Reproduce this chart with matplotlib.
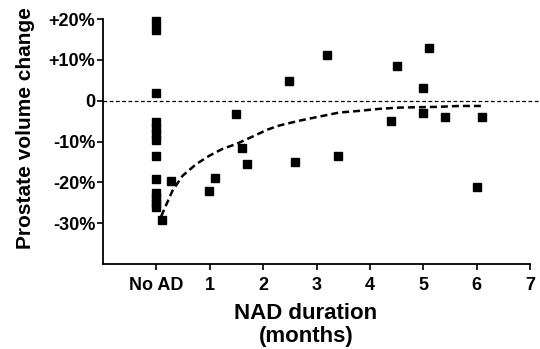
import matplotlib
matplotlib.use("Agg")
import matplotlib.pyplot as plt

# values (x in months, y in % change)
noad_y = [19.6, 17.4, 2.0, -5.2, -6.6, -8.1, -9.6, -13.5,
          -19.2, -22.6, -23.8, -25.1, -26.0]
nad_x = [0.1, 0.28, 0.99, 1.09, 1.5, 1.6, 1.69, 2.49, 2.6, 3.2, 3.4,
         4.4, 4.5, 5.0, 5.0, 5.1, 5.4, 6.0, 6.1]
nad_y = [-29.2, -19.7, -22.2, -18.9, -3.2, -11.5, -15.5, 4.9, -14.9, 11.3, -13.5,
         -4.9, 8.4, 3.0, -3.0, 12.8, -4.1, -21.1, -4.1]
fit_x = [0.09, 0.30, 0.49, 0.75, 0.99, 1.24, 1.50, 1.80, 2.08, 2.30, 2.68,
         3.05, 3.43, 3.80, 4.18, 4.55, 4.93, 5.30, 5.67, 6.10]
fit_y = [-28.3, -22.1, -18.4, -15.5, -13.5, -11.8, -10.6, -8.8, -7.1, -6.1, -4.9,
         -3.9, -2.9, -2.5, -2.0, -1.7, -1.6, -1.5, -1.3, -1.3]
xticks = [0, 1, 2, 3, 4, 5, 6, 7]
xtick_labels = ['No AD', '1', '2', '3', '4', '5', '6', '7']
yticks = [-30, -20, -10, 0, 10, 20]
ytick_labels = ['-30%', '-20%', '-10%', '0', '+10%', '+20%']

plt.rcParams['font.family'] = ['Liberation Sans', 'DejaVu Sans']
plt.rcParams['font.weight'] = 'bold'

fig = plt.figure(figsize=(5.4, 3.49), dpi=100)
ax = fig.add_axes([103/540, 1 - 264/349, (530-103)/540, (264-19)/349])

ax.axhline(0, xmin=0, xmax=1.02, color='black', lw=0.9, dashes=(3, 2), clip_on=False)
ax.plot(fit_x, fit_y, color='black', lw=1.8, dashes=(2.8, 1.6))
ax.plot([0]*len(noad_y), noad_y, 's', color='black', ms=6, clip_on=False)
ax.plot(nad_x, nad_y, 's', color='black', ms=6, clip_on=False)

ax.set_xlim(-1, 7)
ax.set_ylim(-40, 20)
ax.set_xticks(xticks)
ax.set_xticklabels(xtick_labels)
ax.set_yticks(yticks)
ax.set_yticklabels(ytick_labels)
ax.spines['top'].set_visible(False)
ax.spines['right'].set_visible(False)
ax.spines['left'].set_linewidth(1.3)
ax.spines['bottom'].set_linewidth(1.3)
ax.tick_params(axis='both', width=1.2, length=4.5, labelsize=13)
ax.tick_params(axis='y', pad=1)
ax.tick_params(axis='x', pad=5)
for lab in ax.get_xticklabels() + ax.get_yticklabels():
    lab.set_fontweight('bold')

fig.text(26/540, 1 - 128/349, 'Prostate volume change', rotation=90,
         ha='center', va='center', fontsize=15, fontweight='bold')
fig.text(306/540, 1 - 325/349, 'NAD duration\n(months)', ha='center', va='center',
         fontsize=16, fontweight='bold', linespacing=1.1)

fig.savefig('out.png', dpi=100)
